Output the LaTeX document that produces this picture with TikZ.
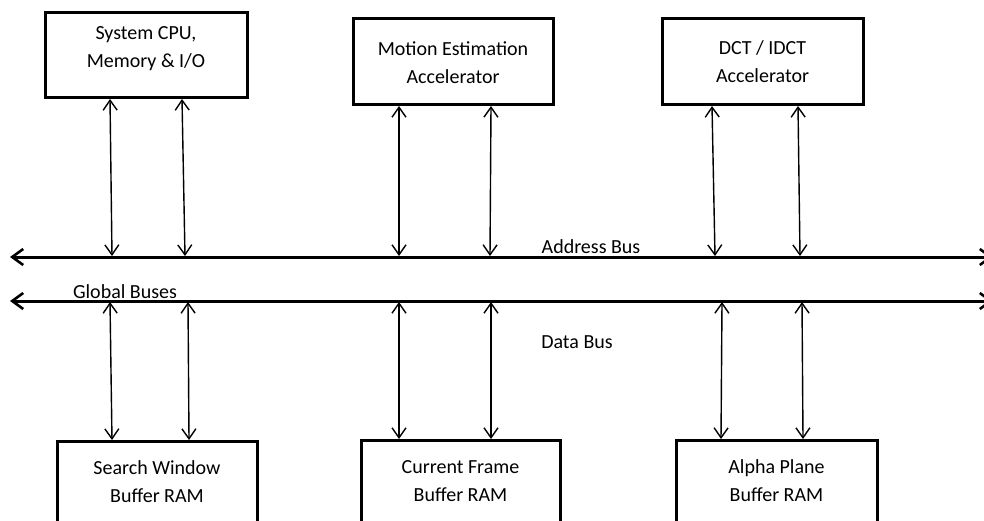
\documentclass[tikz,border=0pt]{standalone}
\usepackage{fontspec}
\setmainfont{Carlito}
\usetikzlibrary{arrows.meta}
\tikzset{
  unitbox/.style={draw, line width=3pt, fill=white, rectangle, inner sep=0pt},
  boxtext/.style={align=center, font=\fontsize{20}{28}\selectfont, inner sep=0pt},
  buslabel/.style={font=\fontsize{20}{24}\selectfont, inner sep=0pt},
  link/.style={line width=1.4pt, {Straight Barb[length=10pt,width=14pt,line width=1.4pt]}-{Straight Barb[length=10pt,width=14pt,line width=1.4pt]}},
  bus/.style={line width=3pt, {Straight Barb[length=11pt,width=16pt,line width=2.6pt]}-{Straight Barb[length=11pt,width=16pt,line width=2.6pt]}}
}
\begin{document}
\begin{tikzpicture}[x=1pt,y=-1pt]
\useasboundingbox (0,0) rectangle (984,521);
\fill[white] (0,0) rectangle (984,521);
\begin{scope}
\clip (0,0) rectangle (984,521);
% top boxes
\node[unitbox, minimum width=202pt, minimum height=85pt] (cpu) at (146,55.5) {};
\node[boxtext] (cput) at (146,49) {System CPU,\\Memory \& I/O};
\node[unitbox, minimum width=200pt, minimum height=86pt] (me) at (453,62) {};
\node[boxtext] (met) at (453,62.5) {Motion Estimation\\Accelerator};
\node[unitbox, minimum width=201pt, minimum height=86pt] (dct) at (762.5,62) {};
\node[boxtext] (dctt) at (762.5,62) {DCT / IDCT\\Accelerator};
% bottom boxes
\node[unitbox, minimum width=200pt, minimum height=130pt] (sw) at (157,506) {};
\node[boxtext] (swt) at (157,482) {Search Window\\Buffer RAM};
\node[unitbox, minimum width=199pt, minimum height=130pt] (cf) at (460.5,505) {};
\node[boxtext] (cft) at (460.5,481) {Current Frame\\Buffer RAM};
\node[unitbox, minimum width=201pt, minimum height=130pt] (ap) at (776.5,505) {};
\node[boxtext] (apt) at (776.5,481) {Alpha Plane\\Buffer RAM};
% buses
\coordinate (abL) at (10,257);
\coordinate (abR) at (993,257);
\coordinate (dbL) at (10,301);
\coordinate (dbR) at (993,301);
\draw[bus] (abL) -- (abR);
\draw[bus] (dbL) -- (dbR);
% connection points
\coordinate (c1t) at (110,99);  \coordinate (c1b) at (112,256);
\coordinate (c2t) at (182,99);  \coordinate (c2b) at (185,256);
\coordinate (c3t) at (399,106); \coordinate (c3b) at (399,256);
\coordinate (c4t) at (491,106); \coordinate (c4b) at (490,256);
\coordinate (c5t) at (712,106); \coordinate (c5b) at (715,256);
\coordinate (c6t) at (798,106); \coordinate (c6b) at (800,256);
\coordinate (d1t) at (110,302); \coordinate (d1b) at (112,440);
\coordinate (d2t) at (188,302); \coordinate (d2b) at (189,440);
\coordinate (d3t) at (399,302); \coordinate (d3b) at (399,439);
\coordinate (d4t) at (491,302); \coordinate (d4b) at (491,439);
\coordinate (d5t) at (722,302); \coordinate (d5b) at (721,439);
\coordinate (d6t) at (802,302); \coordinate (d6b) at (803,439);
\foreach \a/\b in {c1t/c1b,c2t/c2b,c3t/c3b,c4t/c4b,c5t/c5b,c6t/c6b,d1t/d1b,d2t/d2b,d3t/d3b,d4t/d4b,d5t/d5b,d6t/d6b}
  \draw[link] (\a) -- (\b);
% labels
\node[buslabel] (addr) at (591,247) {Address Bus};
\node[buslabel] (data) at (577,342) {Data Bus};
\node[buslabel] (glob) at (125,292) {Global Buses};
\end{scope}
\end{tikzpicture}
\end{document}
